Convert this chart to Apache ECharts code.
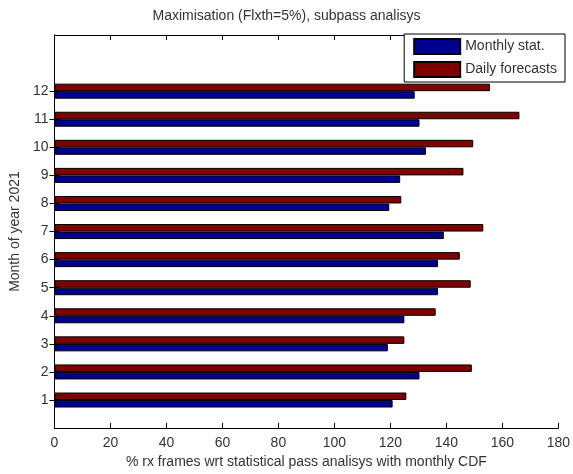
<!DOCTYPE html>
<html>
<head>
<meta charset="utf-8">
<script src="https://cdn.jsdelivr.net/npm/echarts@6/dist/echarts.min.js"></script>
<style>html,body{margin:0;padding:0;background:#fff}#c{width:573px;height:474px}</style>
</head>
<body>
<div id="c"></div>
<script>
var months = ['1','2','3','4','5','6','7','8','9','10','11','12'];
var monthlyStat = [120.8,130.4,119.1,125.0,137.0,137.0,139.1,119.6,123.5,132.7,130.4,128.7];
var dailyForecasts = [125.7,149.1,125.0,136.2,148.7,144.8,153.2,123.9,146.1,149.6,166.1,155.6];
var xTicks = [0,20,40,60,80,100,120,140,160,180];

var cats = ['0'].concat(months).concat(['13','14']);
function pad(a){ return [null].concat(a).concat([null,null]); }
var isMonth = function(idx){ return idx >= 1 && idx <= 12; };
var font = 'Liberation Sans, Arial, sans-serif';
var chart = echarts.init(document.getElementById('c'));
chart.setOption({
  animation: false,
  backgroundColor: '#fff',
  title: {
    text: 'Maximisation (Flxth=5%), subpass analisys',
    left: 'center', top: 4,
    textStyle: {fontFamily: font, fontSize: 14, fontWeight: 'normal', color: '#333'}
  },
  legend: {
    orient: 'vertical',
    right: 8, top: 34,
    itemWidth: 46, itemHeight: 15, itemGap: 6,
    padding: [4, 8, 4, 9],
    backgroundColor: '#fff', borderColor: '#000', borderWidth: 1, borderRadius: 0,
    icon: 'rect',
    textStyle: {fontFamily: font, fontSize: 14, color: '#333'},
    data: ['Monthly stat.', 'Daily forecasts']
  },
  grid: {left: 53, right: 10, top: 35, bottom: 41, containLabel: false},
  xAxis: [{
    type: 'value', min: xTicks[0], max: xTicks[xTicks.length-1], interval: 20, position: 'bottom',
    axisLine: {show: true, lineStyle: {color: '#000', width: 1}},
    axisTick: {show: true, inside: true, length: 5, lineStyle: {color: '#000'}},
    axisLabel: {fontFamily: font, fontSize: 14, color: '#333', margin: 8},
    splitLine: {show: false},
    name: '% rx frames wrt statistical pass analisys with monthly CDF',
    nameLocation: 'middle', nameGap: 26,
    nameTextStyle: {fontFamily: font, fontSize: 14, color: '#333'}
  }, {
    type: 'value', min: 0, max: 180, interval: 20, position: 'top',
    axisLine: {show: true, lineStyle: {color: '#000', width: 1}},
    axisTick: {show: true, inside: true, length: 5, lineStyle: {color: '#000'}},
    axisLabel: {show: false}, splitLine: {show: false}
  }],
  yAxis: [{
    type: 'category', data: cats, boundaryGap: false, position: 'left',
    axisLine: {show: true, lineStyle: {color: '#000', width: 1}},
    axisTick: {show: true, inside: true, length: 5, interval: function(i){ return isMonth(i); }, lineStyle: {color: '#000'}},
    axisLabel: {fontFamily: font, fontSize: 14, color: '#333', margin: 6, interval: 0,
      formatter: function(v, i){ return isMonth(i) ? v : ''; }},
    splitLine: {show: false},
    name: 'Month of year 2021', nameLocation: 'middle', nameGap: 30, nameRotate: 90,
    nameTextStyle: {fontFamily: font, fontSize: 14, color: '#333'}
  }, {
    type: 'category', data: cats, boundaryGap: false, position: 'right',
    axisLine: {show: true, lineStyle: {color: '#000', width: 1}},
    axisTick: {show: true, inside: true, length: 5, interval: function(i){ return isMonth(i); }, lineStyle: {color: '#000'}},
    axisLabel: {show: false}, splitLine: {show: false}
  }],
  series: [{
    name: 'Daily forecasts', type: 'bar', xAxisIndex: 0, yAxisIndex: 0,
    data: pad(dailyForecasts), barWidth: 7.5, barGap: '0%',
    itemStyle: {color: '#800000', borderColor: '#000', borderWidth: 1}
  }, {
    name: 'Monthly stat.', type: 'bar', xAxisIndex: 0, yAxisIndex: 0,
    data: pad(monthlyStat), barWidth: 7.5, barGap: '0%',
    itemStyle: {color: '#00008f', borderColor: '#000', borderWidth: 1}
  }]
});
</script>
</body>
</html>
